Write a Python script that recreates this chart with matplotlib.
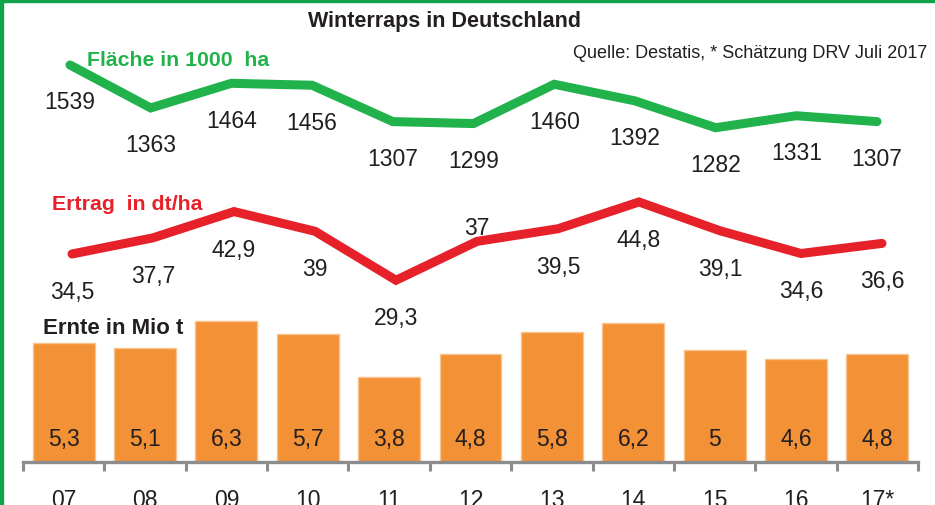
import matplotlib
matplotlib.use("Agg")
import matplotlib.pyplot as plt
from matplotlib.patches import Rectangle

# data
years = ["07", "08", "09", "10", "11", "12", "13", "14", "15", "16", "17*"]
flaeche = [1539, 1363, 1464, 1456, 1307, 1299, 1460, 1392, 1282, 1331, 1307]
ertrag = [34.5, 37.7, 42.9, 39.0, 29.3, 37.0, 39.5, 44.8, 39.1, 34.6, 36.6]
ernte = [5.3, 5.1, 6.3, 5.7, 3.8, 4.8, 5.8, 6.2, 5.0, 4.6, 4.8]

GREEN = "#21B24B"
RED = "#E62129"
ORANGE = "#F39136"
TXT = "#231F20"
GRAY = "#8C8C8C"
FONT = ["Liberation Sans", "DejaVu Sans"]

plt.rcParams["font.family"] = FONT
NUM = 16.5


def de(v):
    return f"{v:g}".replace(".", ",")


W, H = 935, 506
fig = plt.figure(figsize=(W / 100, H / 100), dpi=100)
fig.patch.set_facecolor("white")

x = list(range(len(years)))

# bars (Ernte)
axb = fig.add_axes([23 / W, (H - 463) / H, (918 - 23) / W, 170 / H])
axb.set_xlim(-0.5, 10.5)
axb.set_ylim(0, 170 / 22.4)
axb.bar(x, ernte, width=0.76, color=ORANGE, edgecolor="#F9C38C", linewidth=1)
for xi, v in zip(x, ernte):
    axb.annotate(de(v), (xi, 0), xytext=(0, 17), textcoords="offset points",
                 ha="center", va="center", fontsize=NUM, color=TXT)
for s in ["left", "right", "top"]:
    axb.spines[s].set_visible(False)
axb.spines["bottom"].set_color(GRAY)
axb.spines["bottom"].set_linewidth(2.4)
axb.set_yticks([])
axb.set_xticks(x)
axb.set_xticklabels(years, fontsize=NUM, color=TXT)
axb.tick_params(axis="x", which="major", length=0, pad=19)
axb.set_xticks([i + 0.5 for i in range(-1, 11)], minor=True)
axb.tick_params(axis="x", which="minor", length=6.5, width=2.2, color=GRAY, direction="out")
axb.patch.set_alpha(0)

# Flaeche line
axf = fig.add_axes([0, 0, 1, 1])
axf.set_xlim(-70 / 80.7, (W - 70) / 80.7)
axf.set_ylim(1539 - 440 / 0.244, 1539 + 66 / 0.244)
axf.plot(x, flaeche, color=GREEN, lw=6.5, solid_capstyle="round", solid_joinstyle="miter")
for xi, v in zip(x, flaeche):
    axf.annotate(de(v), (xi, v), xytext=(0, -26.5), textcoords="offset points",
                 ha="center", va="center", fontsize=NUM, color=TXT)
axf.axis("off")
axf.patch.set_alpha(0)

# Ertrag line
axe = fig.add_axes([0, 0, 1, 1])
axe.set_xlim(-72 / 81, (W - 72) / 81)
axe.set_ylim(34.5 - 251 / 5.05, 34.5 + 255 / 5.05)
axe.plot(x, ertrag, color=RED, lw=6.5, solid_capstyle="round", solid_joinstyle="miter")
for xi, v in zip(x, ertrag):
    dy = 10 if v == 37.0 else -27
    axe.annotate(de(v), (xi, v), xytext=(0, dy), textcoords="offset points",
                 ha="center", va="center", fontsize=NUM, color=TXT)
axe.axis("off")
axe.patch.set_alpha(0)

# texts
fig.text(444 / W, 1 - 21 / H, "Winterraps in Deutschland", ha="center", va="center",
         fontsize=15.5, fontweight="bold", color=TXT)
fig.text(927 / W, 1 - 53 / H, "Quelle: Destatis, * Schätzung DRV Juli 2017", ha="right",
         va="center", fontsize=13, color=TXT)
fig.text(87 / W, 1 - 61 / H, "Fläche in 1000  ha", ha="left", va="center",
         fontsize=15.3, fontweight="bold", color=GREEN)
fig.text(52 / W, 1 - 204 / H, "Ertrag  in dt/ha", ha="left", va="center",
         fontsize=15.3, fontweight="bold", color=RED)
fig.text(43 / W, 1 - 329 / H, "Ernte in Mio t", ha="left", va="center",
         fontsize=16, fontweight="bold", color=TXT)

# green frame (top and left edges visible)
fig.patches.append(Rectangle((0, 1 - 3 / H), 1, 3 / H, transform=fig.transFigure,
                             color="#0FA34A", zorder=10))
fig.patches.append(Rectangle((0, 0), 3 / W, 1, transform=fig.transFigure,
                             color="#0FA34A", zorder=10))

fig.savefig("out.png", dpi=100)
